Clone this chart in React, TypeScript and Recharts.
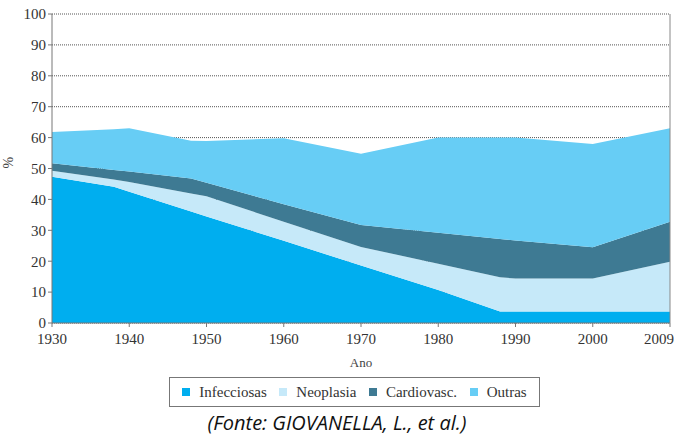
import { AreaChart, Area, XAxis, YAxis, CartesianGrid, ReferenceLine } from 'recharts';

// anos (o último ponto fica no passo de 10 anos do eixo, rotulado 2009)
const years = [1930, 1938, 1940, 1948, 1950, 1960, 1970, 1980, 1988, 1990, 2000, 2010];
const infecciosas = [47.3, 44.1, 42.5, 36.1, 34.5, 26.6, 18.6, 10.7, 3.7, 3.7, 3.7, 3.7];
const neoplasia = [2.0, 2.3, 3.1, 5.8, 6.5, 6.2, 6.0, 8.5, 11.1, 10.7, 10.7, 16.1];
const cardiovasc = [2.4, 3.1, 3.4, 4.9, 4.4, 5.6, 7.1, 10.0, 12.4, 12.3, 10.1, 13.0];
const outras = [10.1, 13.2, 14.0, 12.2, 13.5, 21.4, 23.1, 30.8, 32.8, 33.3, 33.4, 30.2];

const xTicks = [1930, 1940, 1950, 1960, 1970, 1980, 1990, 2000, 2010];
const xTickLabels = ['1930', '1940', '1950', '1960', '1970', '1980', '1990', '2000', '2009'];
const yTicks = [0, 10, 20, 30, 40, 50, 60, 70, 80, 90, 100];

const series = [
  { key: 'infecciosas', name: 'Infecciosas', color: '#00aeef' },
  { key: 'neoplasia', name: 'Neoplasia', color: '#c6e9f9' },
  { key: 'cardiovasc', name: 'Cardiovasc.', color: '#3e7a93' },
  { key: 'outras', name: 'Outras', color: '#67cdf5' },
];

const data = years.map((ano, i) => ({
  ano,
  infecciosas: infecciosas[i],
  neoplasia: neoplasia[i],
  cardiovasc: cardiovasc[i],
  outras: outras[i],
}));

const serif = 'Liberation Serif';

export default function App() {
  return (
    <div style={{ position: 'absolute', left: 0, top: 0, width: 674, height: 435, background: '#fff', fontFamily: serif }}>
      <AreaChart width={674} height={372} data={data} margin={{ top: 14, right: 4, left: 0, bottom: 0 }} style={{ fontFamily: serif }}>
        {series.map(s => (
          <Area
            key={s.key}
            type="linear"
            dataKey={s.key}
            name={s.name}
            stackId="1"
            stroke="none"
            fill={s.color}
            fillOpacity={1}
            isAnimationActive={false}
          />
        ))}
        <CartesianGrid vertical={false} stroke="#555" strokeDasharray="1 1" />
        <XAxis
          dataKey="ano"
          type="number"
          domain={[1930, 2010]}
          ticks={xTicks}
          tickFormatter={(v: number) => xTickLabels[xTicks.indexOf(v)]}
          height={49}
          stroke="#777"
          tickSize={4}
          tickMargin={6}
          tick={{ fontFamily: serif, fontSize: 15, fill: '#333' }}
          label={{ value: 'Ano', position: 'insideBottom', offset: 5, fontFamily: serif, fontSize: 13, fill: '#444' }}
        />
        <YAxis
          domain={[0, 100]}
          ticks={yTicks}
          width={52}
          stroke="#777"
          tickSize={4}
          tick={{ fontFamily: serif, fontSize: 15, fill: '#333' }}
          label={{ value: '%', angle: -90, position: 'insideLeft', offset: 8, fontFamily: serif, fontSize: 14, fill: '#444' }}
        />
        <ReferenceLine x={2010} stroke="#888" />
      </AreaChart>
      <div
        style={{
          position: 'absolute',
          left: 169,
          top: 377,
          width: 371,
          height: 30,
          border: '1px solid #777',
          boxSizing: 'border-box',
          display: 'flex',
          alignItems: 'center',
          justifyContent: 'space-around',
          padding: '0 6px',
          fontFamily: serif,
          fontSize: 15,
          color: '#333',
        }}
      >
        {series.map(s => (
          <span key={s.key} style={{ display: 'flex', alignItems: 'center' }}>
            <span style={{ display: 'inline-block', width: 8, height: 8, background: s.color, marginRight: 9 }} />
            {s.name}
          </span>
        ))}
      </div>
      <div
        style={{
          position: 'absolute',
          left: 0,
          width: 674,
          top: 409,
          textAlign: 'center',
          fontFamily: '"Open Sans", "Noto Sans", sans-serif',
          fontStyle: 'italic',
          fontSize: 20,
          lineHeight: '28px',
          color: '#111',
        }}
      >
        (Fonte: GIOVANELLA, L., et al.)
      </div>
    </div>
  );
}
